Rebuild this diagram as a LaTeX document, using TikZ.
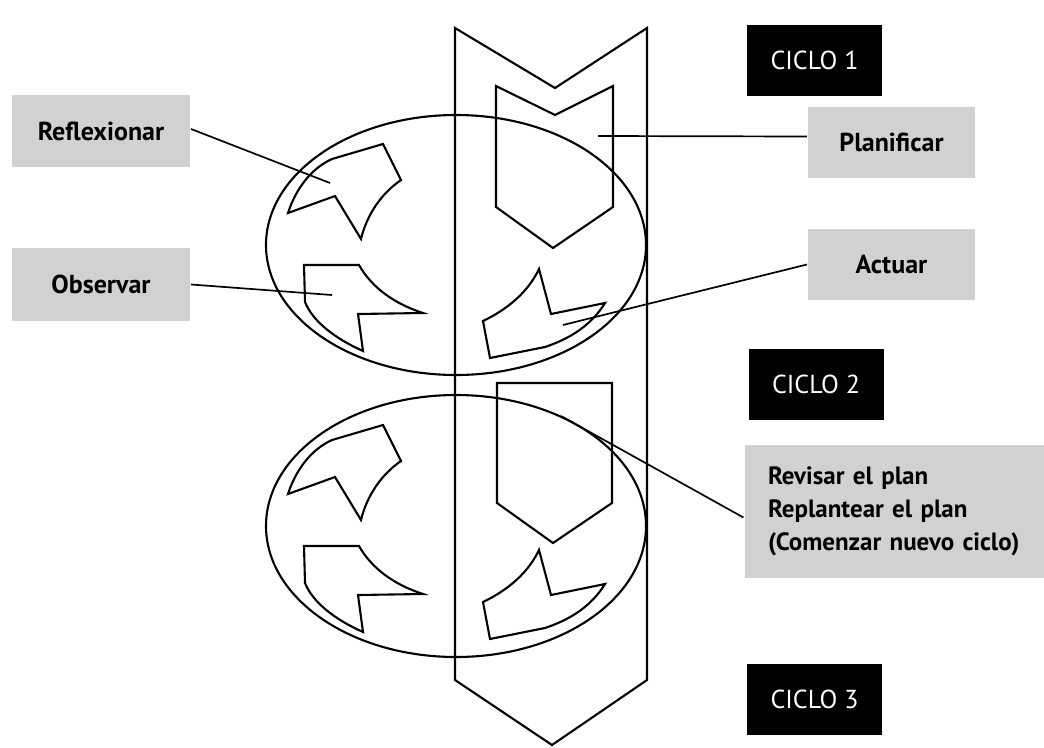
\documentclass[tikz,border=0pt]{standalone}
\usepackage{fontspec}
\setmainfont{PT Sans}
\begin{document}
\begin{tikzpicture}[x=1pt, y=-1pt, line width=2.1pt,
    etiqueta/.style={fill=black!18, inner sep=0pt, font=\bfseries\fontsize{26}{33}\selectfont},
    ciclo/.style={fill=black, text=white, inner sep=0pt, minimum width=135pt, minimum height=71pt, font=\fontsize{26}{28}\selectfont},
    guia/.style={line width=1.7pt}]
    \useasboundingbox (0,0) rectangle (1044,747);
    % franja vertical con los ciclos
    \draw (455,28) -- (555,88) -- (647,28) -- (647,680) -- (552,745) -- (455,680) -- cycle;
    \draw (456,245) ellipse [x radius=190, y radius=130];
    \draw (456,526) ellipse [x radius=190, y radius=131];
    % planificar
    \draw (496,86) -- (555,115) -- (613,86) -- (613,207) -- (553,248) -- (496,207) -- cycle;
    \draw (497,383) -- (612,383) -- (612,503) -- (553,543) -- (497,503) -- cycle;
    % flechas curvas de cada ciclo
    \foreach \dy in {0,281} {
      \begin{scope}[shift={(0,\dy)}]
        \draw (288,213) -- (335,196) -- (361,239) .. controls (367,214) and (382,193) .. (401,180)
          -- (383,144) -- (332,159) .. controls (312,168) and (296,188) .. (288,213) -- cycle;
        \draw (304,265) -- (359,265) .. controls (372,288) and (395,304) .. (423,313)
          -- (358,314) -- (363,351) .. controls (336,339) and (313,322) .. (305,302) -- cycle;
        \draw (539,269) -- (551,314) -- (605,303) .. controls (592,324) and (572,338) .. (545,347)
          -- (490,358) -- (483,321) .. controls (508,309) and (528,292) .. (539,269) -- cycle;
      \end{scope}
    }
    % etiquetas
    \node[ciclo] (ciclo1) at (814.5,60.5) {CICLO 1};
    \node[ciclo] (ciclo2) at (816,384.5) {CICLO 2};
    \node[ciclo] (ciclo3) at (814.5,699) {CICLO 3};
    \node[etiqueta, minimum width=178pt, minimum height=72pt] (refl) at (101,131) {Reflexionar};
    \node[etiqueta, minimum width=178pt, minimum height=73pt] (obs) at (101,284.5) {Observar};
    \node[etiqueta, minimum width=167pt, minimum height=71pt] (plan) at (891.5,142.5) {Planificar};
    \node[etiqueta, minimum width=167pt, minimum height=71pt] (act) at (891.5,264.5) {Actuar};
    \node[etiqueta, minimum width=317pt, minimum height=133pt, text width=270pt, align=left,
      font=\bfseries\fontsize{25}{33}\selectfont] (rev) at (903,511.5)
      {Revisar el plan\\Replantear el plan\\(Comenzar nuevo ciclo)};
    % lineas guia
    \coordinate (reflEnd) at (330,183);
    \coordinate (obsEnd) at (332,295);
    \coordinate (planEnd) at (598,136);
    \coordinate (actEnd) at (563,325);
    \coordinate (revEnd) at (561,416);
    \draw[guia] ([yshift=2pt]refl.east) -- (reflEnd);
    \draw[guia] (obs.east) -- (obsEnd);
    \draw[guia] ([yshift=6pt]plan.west) -- (planEnd);
    \draw[guia] (act.west) -- (actEnd);
    \draw[guia] ([yshift=-6pt]rev.west) -- (revEnd);
  \end{tikzpicture}
\end{document}
